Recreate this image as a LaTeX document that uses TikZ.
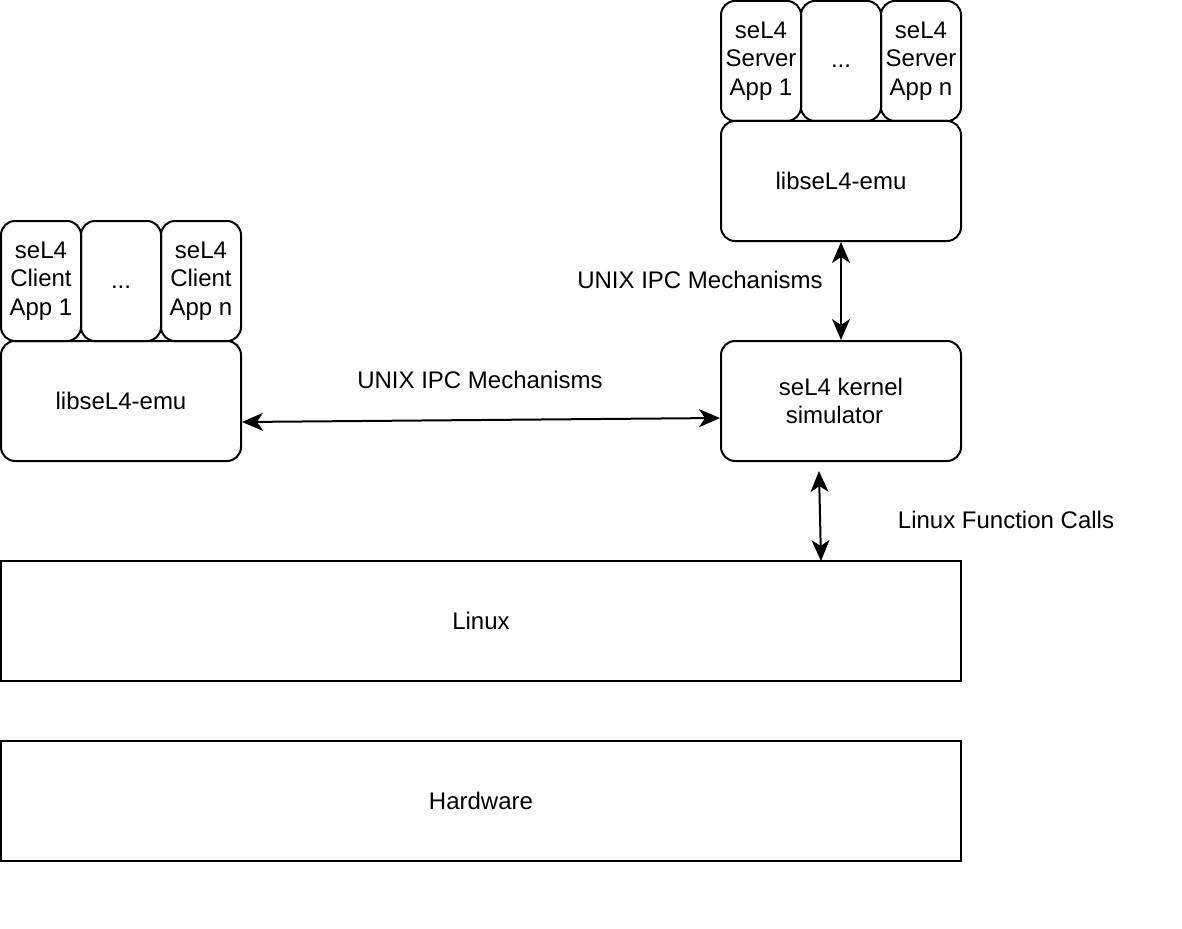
\documentclass[tikz,border=0pt]{standalone}
\usepackage{fontspec}
\setmainfont{Liberation Sans}
\usetikzlibrary{arrows.meta}

\begin{document}
\begin{tikzpicture}
[x=1pt,y=-1pt,
box/.style={draw,line width=2pt,rounded corners=14pt,align=center,inner sep=0pt,
font=\fontsize{24}{28.5}\selectfont},
app/.style={box,minimum width=80pt,minimum height=120pt},
layer/.style={box,minimum width=240pt,minimum height=120pt},
base/.style={box,rounded corners=0pt,minimum width=960pt,minimum height=120pt},
lbl/.style={font=\fontsize{24}{28.5}\selectfont},
ipcarrow/.style={line width=2pt,{Stealth[length=21pt,width=18pt,inset=6pt]}-{Stealth[length=21pt,width=18pt,inset=6pt]}}]
\useasboundingbox (0,0) rectangle (1182,928);
\node[app] (sapp1) at (761,61) {seL4\\Server\\App 1};
\node[app,text height=0pt,text depth=0pt] (sappd) at (841,61) {\raisebox{-7pt}{...}};
\node[app] (sappn) at (921,61) {seL4\\Server\\App n};
\node[layer] (slib) at (841,181) {libseL4-emu};
\node[app] (capp1) at (41,281) {seL4\\Client\\App 1};
\node[app,text height=0pt,text depth=0pt] (cappd) at (121,281) {\raisebox{-7pt}{...}};
\node[app] (cappn) at (201,281) {seL4\\Client\\App n};
\node[layer] (clib) at (121,401) {libseL4-emu};
\node[layer] (kern) at (841,401) {seL4 kernel\\simulator\hspace*{13pt}};
\node[base] (lnx) at (481,621) {Linux};
\node[base] (hw) at (481,801) {Hardware};
\coordinate (kbot) at (819,471);
\coordinate (ltop) at (821,561);
\draw[ipcarrow] (slib.south) -- (kern.north);
\draw[ipcarrow] ([yshift=-21pt]clib.east) -- ([yshift=-17pt]kern.west);
\draw[ipcarrow] (kbot) -- (ltop);
\node[lbl] (ipc1) at (700,280) {UNIX IPC Mechanisms};
\node[lbl] (ipc2) at (480,380) {UNIX IPC Mechanisms};
\node[lbl] (fcall) at (1006,520) {Linux Function Calls};
\end{tikzpicture}
\end{document}
